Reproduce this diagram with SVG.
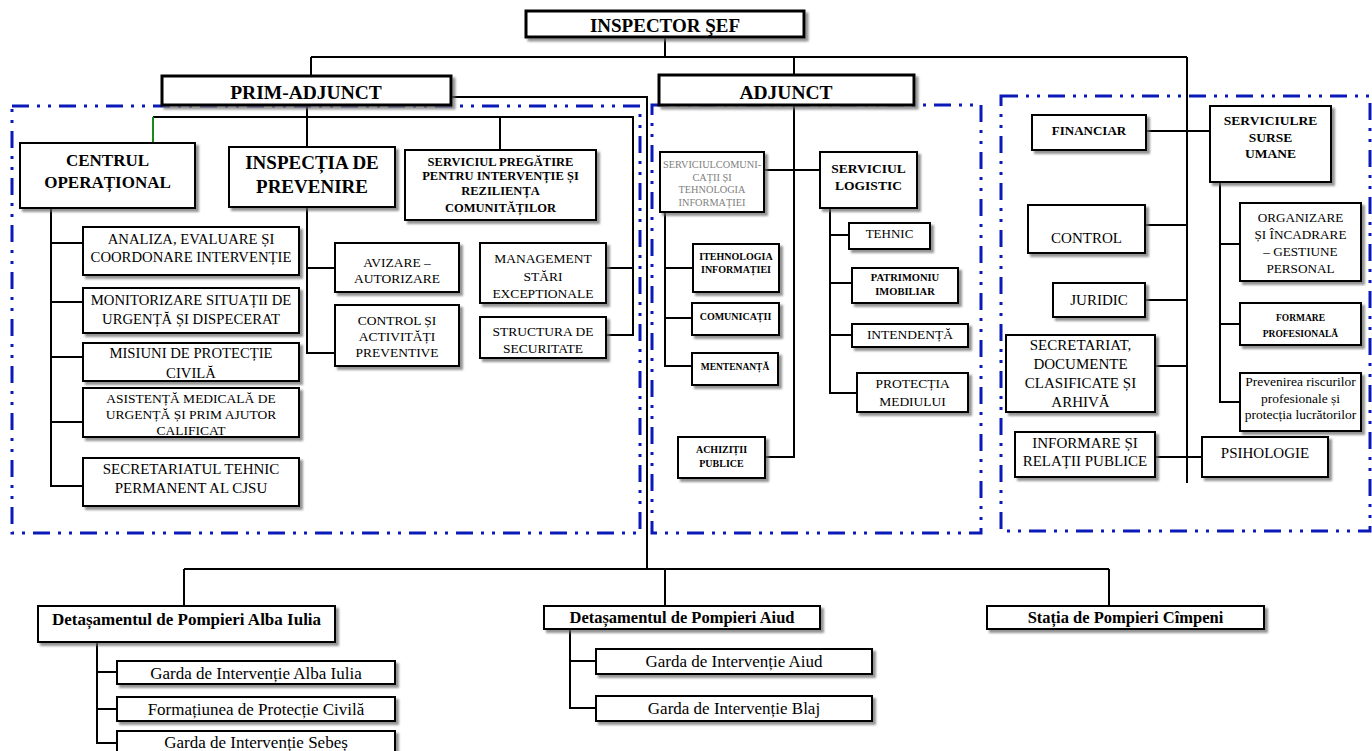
<svg xmlns="http://www.w3.org/2000/svg" width="1372" height="751" viewBox="0 0 1372 751">
<defs>
<filter id="sh" x="-10%" y="-10%" width="130%" height="140%">
<feDropShadow dx="3" dy="3" stdDeviation="0.8" flood-color="#666" flood-opacity="0.7"/>
</filter>
<style>
.box{fill:#fff;stroke:#000;stroke-width:2;filter:url(#sh)}
.big{stroke-width:3}
.reg{fill:none;stroke:#0a1ab8;stroke-width:3;stroke-dasharray:17 8 3 8 3 8}
.c{fill:none;stroke:#000;stroke-width:2}
.g{fill:none;stroke:#1a8a1a;stroke-width:2}
text{font-family:"Liberation Serif","Times New Roman",serif;text-anchor:middle;fill:#000}
.b{font-weight:bold}
.gray{fill:#808080}
</style>
</defs>
<rect width="1372" height="751" fill="#fff"/>

<g id="regions">
<rect class="reg" x="12" y="106" width="628" height="427"/>
<rect class="reg" x="652" y="105" width="329" height="428"/>
<rect class="reg" x="1001" y="96" width="369" height="435"/>
</g>

<g id="connectors">
<path class="c" d="M665 37V57M311 57H1187M311 57V76M794 57V75M1187 57V483"/>
<path class="c" d="M307 90V147M307 97H647V569"/>
<path class="c" d="M153 117H633V335H606M307 117V147M500 117V150M633 268H606"/>
<path class="g" d="M153 117V143"/>
<path class="c" d="M51 208V486H83M51 243H83M51 302H83M51 357H83M51 422H83"/>
<path class="c" d="M307 207V353H335M307 268H335"/>
<path class="c" d="M794 105V457H765M764 170H820"/>
<path class="c" d="M665 212V366H692M665 268H693M665 318H692"/>
<path class="c" d="M830 208V393H857M830 235H849M830 283H852M830 335H852"/>
<path class="c" d="M1146 131H1210M1145 225H1187M1145 300H1187M1155 366H1187M1155 457H1202"/>
<path class="c" d="M1220 182V402H1240M1220 244H1240M1220 324H1240"/>
<path class="c" d="M184 569H1109M184 569V606M665 569V606M1109 569V606"/>
<path class="c" d="M97 642V743H117M97 672H117M97 709H117"/>
<path class="c" d="M570 629V708H596M570 661H596"/>
</g>

<g id="n-inspector"><rect class="box big" x="526" y="11" width="278" height="26"/><text class="b" x="665" y="32" font-size="19">INSPECTOR ŞEF</text></g>
<g id="n-prim"><rect class="box big" x="162" y="76" width="289" height="29"/><text class="b" x="306" y="99" font-size="19.5">PRIM-ADJUNCT</text></g>
<g id="n-adjunct"><rect class="box big" x="659" y="75" width="255" height="30"/><text class="b" x="786" y="99" font-size="19.5">ADJUNCT</text></g>

<g id="n-centrul"><rect class="box" x="20" y="143" width="175" height="65"/><text class="b" x="107.5" y="166" font-size="17">CENTRUL</text><text class="b" x="107.5" y="188" font-size="17">OPERAȚIONAL</text></g>
<g id="n-inspectia"><rect class="box" x="229" y="147" width="166" height="60"/><text class="b" x="312" y="169" font-size="19">INSPECȚIA DE</text><text class="b" x="312" y="193" font-size="19">PREVENIRE</text></g>
<g id="n-spir"><rect class="box" x="405" y="150" width="191" height="70"/><text class="b" x="500.5" y="166" font-size="12.5">SERVICIUL PREGĂTIRE</text><text class="b" x="500.5" y="180" font-size="12.5">PENTRU INTERVENȚIE ȘI</text><text class="b" x="500.5" y="195" font-size="12.5">REZILIENȚA</text><text class="b" x="500.5" y="212" font-size="12.5">COMUNITĂȚILOR</text></g>
<g id="n-analiza"><rect class="box" x="83" y="227" width="216" height="48"/><text x="191" y="244" font-size="14.7">ANALIZA, EVALUARE ȘI</text><text x="191" y="262" font-size="14.7">COORDONARE INTERVENȚIE</text></g>
<g id="n-monitorizare"><rect class="box" x="83" y="288" width="216" height="45"/><text x="191" y="305" font-size="14.7">MONITORIZARE SITUAȚII DE</text><text x="191" y="324" font-size="14.7">URGENȚĂ ȘI DISPECERAT</text></g>
<g id="n-misiuni"><rect class="box" x="83" y="343" width="216" height="38"/><text x="191" y="358" font-size="14.7">MISIUNI DE PROTECȚIE</text><text x="191" y="378" font-size="14.7">CIVILĂ</text></g>
<g id="n-asistenta"><rect class="box" x="83" y="388" width="216" height="49"/><text x="191" y="403" font-size="13.5">ASISTENȚĂ MEDICALĂ DE</text><text x="191" y="419" font-size="13.5">URGENȚĂ ȘI PRIM AJUTOR</text><text x="191" y="435" font-size="13.5">CALIFICAT</text></g>
<g id="n-secretariatul"><rect class="box" x="83" y="458" width="216" height="48"/><text x="191" y="474" font-size="15">SECRETARIATUL TEHNIC</text><text x="191" y="493" font-size="15">PERMANENT AL CJSU</text></g>
<g id="n-avizare"><rect class="box" x="335" y="243" width="124" height="49"/><text x="397" y="267" font-size="13.5">AVIZARE –</text><text x="397" y="283" font-size="13.5">AUTORIZARE</text></g>
<g id="n-control-act"><rect class="box" x="335" y="305" width="124" height="61"/><text x="397" y="325" font-size="13.5">CONTROL ȘI</text><text x="397" y="341" font-size="13.5">ACTIVITĂȚI</text><text x="397" y="357" font-size="13.5">PREVENTIVE</text></g>
<g id="n-management"><rect class="box" x="480" y="243" width="126" height="60"/><text x="543" y="263" font-size="13.5">MANAGEMENT</text><text x="543" y="281" font-size="13.5">STĂRI</text><text x="543" y="298" font-size="13.5">EXCEPTIONALE</text></g>
<g id="n-structura"><rect class="box" x="480" y="317" width="126" height="41"/><text x="543" y="336" font-size="13.5">STRUCTURA DE</text><text x="543" y="353" font-size="13.5">SECURITATE</text></g>

<g id="n-comunicatii-ti"><rect class="box" x="660" y="152" width="104" height="60"/><text class="gray" x="712" y="168" font-size="10.3">SERVICIULCOMUNI-</text><text class="gray" x="712" y="181" font-size="10.3">CAȚII ȘI</text><text class="gray" x="712" y="193" font-size="10.3">TEHNOLOGIA</text><text class="gray" x="712" y="206" font-size="10.3">INFORMAȚIEI</text></g>
<g id="n-logistic"><rect class="box" x="820" y="152" width="97" height="56"/><text class="b" x="868.5" y="173" font-size="13.5">SERVICIUL</text><text class="b" x="868.5" y="190" font-size="13.5">LOGISTIC</text></g>
<g id="n-itehnologia"><rect class="box" x="693" y="244" width="86" height="48"/><text class="b" x="736" y="260" font-size="10">ITEHNOLOGIA</text><text class="b" x="736" y="273" font-size="10">INFORMAȚIEI</text></g>
<g id="n-comunicatii"><rect class="box" x="692" y="303" width="87" height="32"/><text class="b" x="735.5" y="320" font-size="10">COMUNICAȚII</text></g>
<g id="n-mentenanta"><rect class="box" x="692" y="353" width="86" height="32"/><text class="b" x="735" y="370" font-size="9.5">MENTENANȚĂ</text></g>
<g id="n-achizitii"><rect class="box" x="678" y="437" width="87" height="41"/><text class="b" x="721.5" y="453" font-size="10">ACHIZIȚII</text><text class="b" x="721.5" y="467" font-size="10">PUBLICE</text></g>
<g id="n-tehnic"><rect class="box" x="849" y="223" width="81" height="26"/><text x="889.5" y="238" font-size="13">TEHNIC</text></g>
<g id="n-patrimoniu"><rect class="box" x="852" y="268" width="106" height="35"/><text class="b" x="905" y="281" font-size="10.5">PATRIMONIU</text><text class="b" x="905" y="295" font-size="10.5">IMOBILIAR</text></g>
<g id="n-intendenta"><rect class="box" x="852" y="324" width="116" height="23"/><text x="910" y="339" font-size="13.5">INTENDENȚĂ</text></g>
<g id="n-protectia"><rect class="box" x="857" y="373" width="111" height="39"/><text x="912.5" y="388" font-size="13.5">PROTECȚIA</text><text x="912.5" y="406" font-size="13.5">MEDIULUI</text></g>

<g id="n-financiar"><rect class="box" x="1032" y="115" width="114" height="35"/><text class="b" x="1089" y="135" font-size="13">FINANCIAR</text></g>
<g id="n-sru"><rect class="box" x="1210" y="106" width="121" height="76"/><text class="b" x="1270.5" y="125" font-size="13.5">SERVICIULRE</text><text class="b" x="1270.5" y="142" font-size="13.5">SURSE</text><text class="b" x="1270.5" y="158" font-size="13.5">UMANE</text></g>
<g id="n-control"><rect class="box" x="1028" y="205" width="117" height="48"/><text x="1086.5" y="243" font-size="15">CONTROL</text></g>
<g id="n-juridic"><rect class="box" x="1053" y="283" width="92" height="34"/><text x="1099" y="305" font-size="15">JURIDIC</text></g>
<g id="n-secretariat"><rect class="box" x="1006" y="335" width="149" height="77"/><text x="1080.5" y="350" font-size="15">SECRETARIAT,</text><text x="1080.5" y="369" font-size="15">DOCUMENTE</text><text x="1080.5" y="388" font-size="15">CLASIFICATE ȘI</text><text x="1080.5" y="407" font-size="15">ARHIVĂ</text></g>
<g id="n-informare"><rect class="box" x="1015" y="432" width="140" height="45"/><text x="1085" y="448" font-size="15">INFORMARE ȘI</text><text x="1085" y="466" font-size="15">RELAȚII PUBLICE</text></g>
<g id="n-organizare"><rect class="box" x="1240" y="203" width="121" height="78"/><text x="1300.5" y="222" font-size="13.2">ORGANIZARE</text><text x="1300.5" y="239" font-size="13.2">ȘI ÎNCADRARE</text><text x="1300.5" y="256" font-size="13.2">– GESTIUNE</text><text x="1300.5" y="273" font-size="13.2">PERSONAL</text></g>
<g id="n-formare"><rect class="box" x="1240" y="303" width="121" height="42"/><text class="b" x="1300.5" y="321" font-size="9.5">FORMARE</text><text class="b" x="1300.5" y="337" font-size="9.5">PROFESIONALĂ</text></g>
<g id="n-prevenirea"><rect class="box" x="1240" y="373" width="121" height="58"/><text x="1300.5" y="386" font-size="13.5">Prevenirea riscurilor</text><text x="1300.5" y="403" font-size="13.5">profesionale și</text><text x="1300.5" y="419" font-size="13.5">protecția lucrătorilor</text></g>
<g id="n-psihologie"><rect class="box" x="1202" y="437" width="126" height="40"/><text x="1265" y="458" font-size="15">PSIHOLOGIE</text></g>

<g id="n-alba"><rect class="box" x="38" y="606" width="297" height="36"/><text class="b" x="186.5" y="625" font-size="17">Detașamentul de Pompieri Alba Iulia</text></g>
<g id="n-aiud"><rect class="box" x="544" y="606" width="276" height="23"/><text class="b" x="682" y="623" font-size="16.5">Detașamentul de Pompieri Aiud</text></g>
<g id="n-campeni"><rect class="box" x="987" y="606" width="277" height="23"/><text class="b" x="1125.5" y="623" font-size="16.5">Stația de Pompieri Cîmpeni</text></g>
<g id="n-garda-alba"><rect class="box" x="117" y="661" width="278" height="23"/><text x="256" y="679" font-size="17">Garda de Intervenție Alba Iulia</text></g>
<g id="n-formatiunea"><rect class="box" x="117" y="697" width="278" height="24"/><text x="256" y="715" font-size="17">Formațiunea de Protecție Civilă</text></g>
<g id="n-sebes"><rect class="box" x="117" y="731" width="278" height="24"/><text x="256" y="748" font-size="17">Garda de Intervenție Sebeș</text></g>
<g id="n-garda-aiud"><rect class="box" x="596" y="649" width="276" height="25"/><text x="734" y="667" font-size="17">Garda de Intervenție Aiud</text></g>
<g id="n-blaj"><rect class="box" x="596" y="696" width="276" height="25"/><text x="734" y="714" font-size="17">Garda de Intervenție Blaj</text></g>
</svg>
